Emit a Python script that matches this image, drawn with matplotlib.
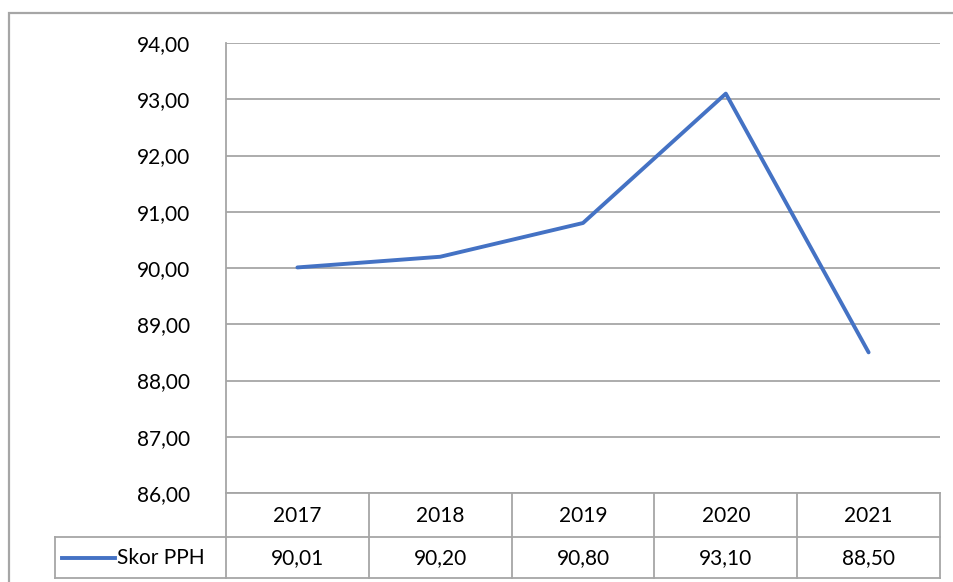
import matplotlib.pyplot as plt
from matplotlib.patches import Rectangle

# data
tahun = ['2017', '2018', '2019', '2020', '2021']
skor_pph = [90.01, 90.20, 90.80, 93.10, 88.50]
nama_seri = 'Skor PPH'
y_ticks = [86, 87, 88, 89, 90, 91, 92, 93, 94]

W, H = 954, 582
biru = '#4472C4'
abu = '#A6A6A6'
plt.rcParams['font.family'] = ['Lato', 'DejaVu Sans']

def koma(v):
    return f'{v:.2f}'.replace('.', ',')

fig = plt.figure(figsize=(W / 100, H / 100), dpi=100, facecolor='white')

# border luar chart
fig.patches.append(Rectangle((9 / W, -0.1), 2, (1 - 13 / H) + 0.1, transform=fig.transFigure,
                             fill=False, edgecolor=abu, linewidth=1.6))

# area plot
x0, x1, ytop, ybot = 226, 940, 43, 493
ax = fig.add_axes([x0 / W, 1 - ybot / H, (x1 - x0) / W, (ybot - ytop) / H])
n = len(tahun)
ax.set_xlim(-0.5, n - 0.5)
ax.set_ylim(86, 94)
ax.set_yticks(y_ticks)
ax.set_yticklabels([koma(v) for v in y_ticks], fontsize=15)
ax.tick_params(axis='y', length=0, pad=26)
ax.set_xticks([])
ax.grid(axis='y', color=abu, linewidth=1.3)
ax.set_axisbelow(True)
for s in ['top', 'right', 'bottom']:
    ax.spines[s].set_visible(False)
ax.spines['left'].set_color(abu)
ax.spines['left'].set_linewidth(1.3)
ax.plot(range(n), skor_pph, color=biru, linewidth=2.8, solid_capstyle='round')

# tabel data
lx, r1, r2, r3 = 55, 493, 537, 578
colw = (x1 - x0) / n
tx = fig.add_axes([0, 0, 1, 1])
tx.set_xlim(0, W)
tx.set_ylim(H, 0)
tx.axis('off')
lw = 1.3
tx.plot([x0, x1], [r1, r1], color=abu, lw=lw)
tx.plot([lx, x1], [r2, r2], color=abu, lw=lw)
tx.plot([lx, x1], [r3, r3], color=abu, lw=lw)
tx.plot([lx, lx], [r2, r3], color=abu, lw=lw)
for i in range(n + 1):
    xv = x0 + i * colw
    tx.plot([xv, xv], [r1, r3], color=abu, lw=lw)
for i, (t, v) in enumerate(zip(tahun, skor_pph)):
    cx = x0 + (i + 0.5) * colw
    tx.text(cx, (r1 + r2) / 2 + 1, t, ha='center', va='center', fontsize=15)
    tx.text(cx, (r2 + r3) / 2 + 1, koma(v), ha='center', va='center', fontsize=15)
tx.plot([62, 115], [(r2 + r3) / 2, (r2 + r3) / 2], color=biru, lw=2.8)
tx.text(117, (r2 + r3) / 2 + 1, nama_seri, ha='left', va='center', fontsize=15)

fig.savefig('out.png', dpi=100, facecolor='white')
